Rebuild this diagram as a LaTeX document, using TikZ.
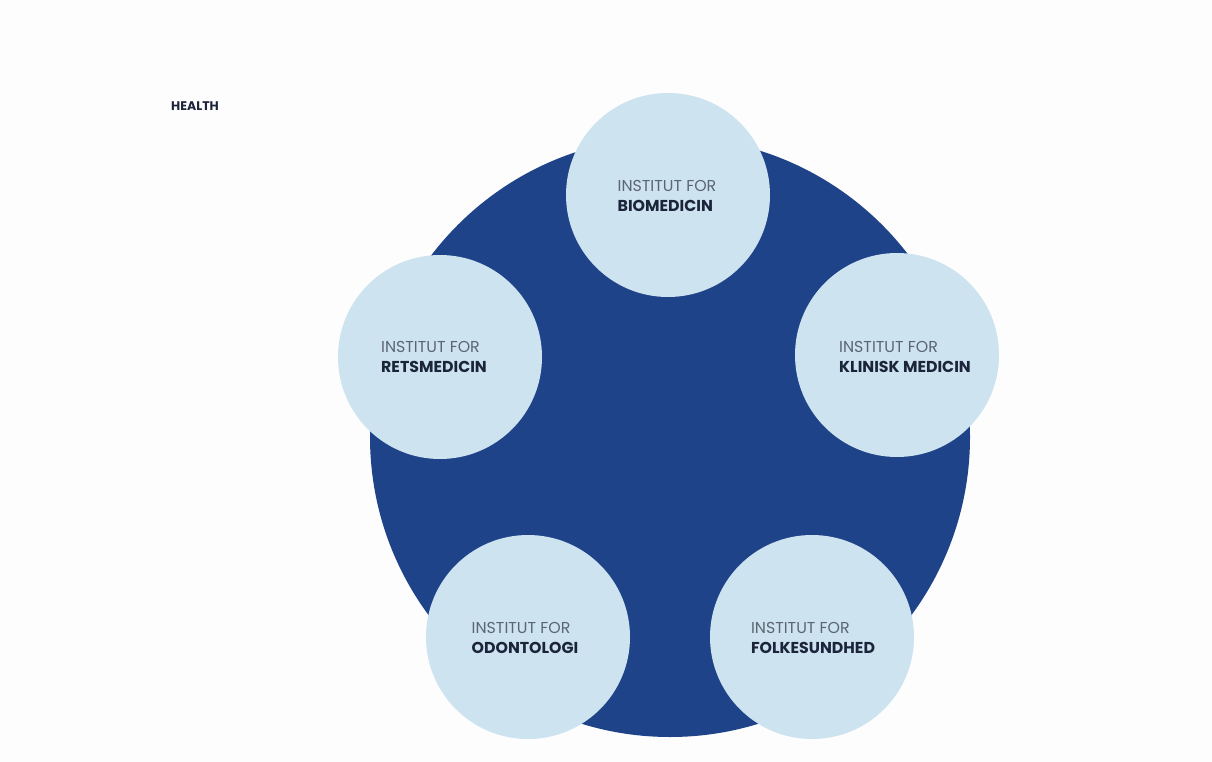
\documentclass[tikz,border=0pt]{standalone}
\usepackage{fontspec}
\setmainfont{Poppins}
\definecolor{bigblue}{RGB}{31,67,136}
\definecolor{lightblue}{RGB}{205,227,239}
\definecolor{darktext}{RGB}{27,36,58}
\definecolor{greytext}{RGB}{92,102,114}
\definecolor{bgwhite}{RGB}{253,253,253}
\tikzset{
  bigcirc/.style={circle, fill=bigblue, minimum size=600pt, inner sep=0pt},
  smallcirc/.style={circle, fill=lightblue, minimum size=204pt, inner sep=0pt},
  label text/.style={align=left, inner sep=0pt, font=\fontsize{15.8pt}{20pt}\selectfont},
  title text/.style={inner sep=0pt, font=\fontsize{12.5pt}{14pt}\selectfont\bfseries, text=darktext},
}
\newcommand{\inst}[1]{{\color{greytext}INSTITUT FOR}\\{\color{darktext}\bfseries #1}}
\begin{document}
\begin{tikzpicture}[x=1pt,y=-1pt]
\fill[bgwhite] (0,0) rectangle (1212,762);
\useasboundingbox (0,0) rectangle (1212,762);
\node[title text, anchor=west] (health) at (171,106) {HEALTH};
\node[bigcirc] (main) at (670,437) {};
\node[smallcirc] (bio) at (668,195) {};
\node[smallcirc] (klin) at (897,355) {};
\node[smallcirc] (rets) at (440,357) {};
\node[smallcirc] (odont) at (528,637) {};
\node[smallcirc] (folk) at (812,637) {};
\node[label text] (tbio) at (667,196) {\inst{BIOMEDICIN}};
\node[label text] (tklin) at (905,357) {\inst{KLINISK MEDICIN}};
\node[label text] (trets) at (434,357) {\inst{RETSMEDICIN}};
\node[label text] (todont) at (525,638) {\inst{ODONTOLOGI}};
\node[label text] (tfolk) at (813,638) {\inst{FOLKESUNDHED}};
\end{tikzpicture}
\end{document}
